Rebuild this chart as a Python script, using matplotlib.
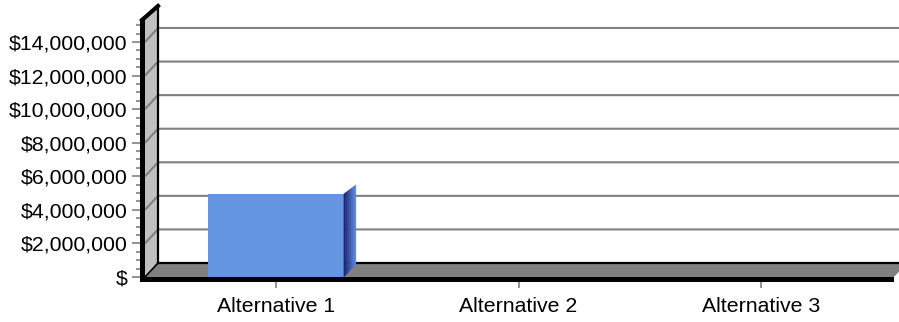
import numpy as np
import matplotlib
matplotlib.use("Agg")
import matplotlib.pyplot as plt
from matplotlib.patches import Polygon, Rectangle
from matplotlib.transforms import IdentityTransform

categories = ["Alternative 1", "Alternative 2", "Alternative 3"]
values = [4950000, 0, 0]
y_ticks = [0, 2000000, 4000000, 6000000, 8000000, 10000000, 12000000, 14000000]
y_labels = ["$", "$2,000,000", "$4,000,000", "$6,000,000", "$8,000,000",
            "$10,000,000", "$12,000,000", "$14,000,000"]
y_minor = np.arange(0, 15000001, 500000)

plt.rcParams['font.family'] = ['Liberation Sans', 'DejaVu Sans']

W, H = 899, 322
fig = plt.figure(figsize=(W / 100, H / 100), dpi=100)
fig.patch.set_facecolor("white")
ax = fig.add_axes([145 / W, 45 / H, 749 / W, 257 / H])
ax.set_xlim(-0.540, 2.548)
ax.set_ylim(0, 15.31e6)
ax.patch.set_visible(False)
for s in ax.spines.values():
    s.set_visible(False)

ident = IdentityTransform()
DX, DY = 13, 14  # depth of the box, in pixels
d = np.array([DX, DY])


def P(x, y):
    return ax.transData.transform((x, y))


def poly(pts, **kw):
    ax.add_patch(Polygon(pts, closed=True, transform=ident, clip_on=False, **kw))


def seg(pts, **kw):
    pts = np.array(pts)
    ax.plot(pts[:, 0], pts[:, 1], transform=ident, clip_on=False, **kw)


x0, x1 = ax.get_xlim()
ytop = ax.get_ylim()[1]
fl, fr, tl = P(x0, 0), P(x1, 0), P(x0, ytop)

# walls
poly([fl, tl, tl + d, fl + d], facecolor="#c0c0c0", edgecolor="none", zorder=1)
poly([fl, fr, fr + d, fl + d], facecolor="#808080", edgecolor="none", zorder=1)

# gridlines on side wall and back wall
for v in y_ticks[1:]:
    a, b = P(x0, v), P(x1, v)
    seg([a, a + d, b + d], color="#808080", lw=1.5, zorder=1.2, solid_capstyle="butt")

# box edges
seg([fl + d, tl + d], color="black", lw=1.6, zorder=2)
seg([fl + d, fr + d], color="black", lw=1.6, zorder=2)
seg([fl, fl + d], color="black", lw=1.2, zorder=2)
seg([tl + (-3, 0), tl + d], color="black", lw=3, zorder=4)

# bars
bw = 0.56
xs = np.arange(len(categories))
ax.bar(xs, values, width=bw, color="#6495e0", zorder=3, clip_on=False)
c_dark = np.array([25, 40, 115]) / 255
c_light = np.array([88, 128, 222]) / 255
n = 6
for i, v in enumerate(values):
    if v <= 0:
        continue
    br, tr = P(i + bw / 2, 0), P(i + bw / 2, v)
    for k in range(n):
        t0, t1 = k / n, (k + 1) / n
        col = c_dark + (c_light - c_dark) * (k / (n - 1))
        poly([br + (12 * t0, 13 * t0), tr + (12 * t0, 9 * t0),
              tr + (12 * t1, 9 * t1), br + (12 * t1, 13 * t1)],
             facecolor=col, edgecolor=col, lw=0.3, zorder=3)

# front thickness of wall and floor
ax.add_patch(Rectangle((fl[0] - 5, fl[1] - 4.5), 5, tl[1] - fl[1] + 4.5,
                       facecolor="black", edgecolor="none", transform=ident,
                       clip_on=False, zorder=4))
ax.add_patch(Rectangle((fl[0] - 5, fl[1] - 4.5), fr[0] - fl[0] + 5, 4.5,
                       facecolor="black", edgecolor="none", transform=ident,
                       clip_on=False, zorder=4))

# axes ticks
ax.set_yticks(y_ticks)
ax.set_yticklabels(y_labels)
ax.set_yticks(y_minor, minor=True)
ax.set_xticks(xs)
ax.set_xticklabels(categories)
ax.tick_params(axis="y", which="major", length=9.4, width=1.2, color="#808080",
               pad=3, labelsize=15.3, labelcolor="black")
ax.tick_params(axis="y", which="minor", length=6.5, width=1.2, color="#808080")
ax.tick_params(axis="x", which="major", length=7.9, width=1.2, color="#808080",
               pad=6.5, labelsize=15.3, labelcolor="black")

fig.savefig("out.png", dpi=100, facecolor="white")
